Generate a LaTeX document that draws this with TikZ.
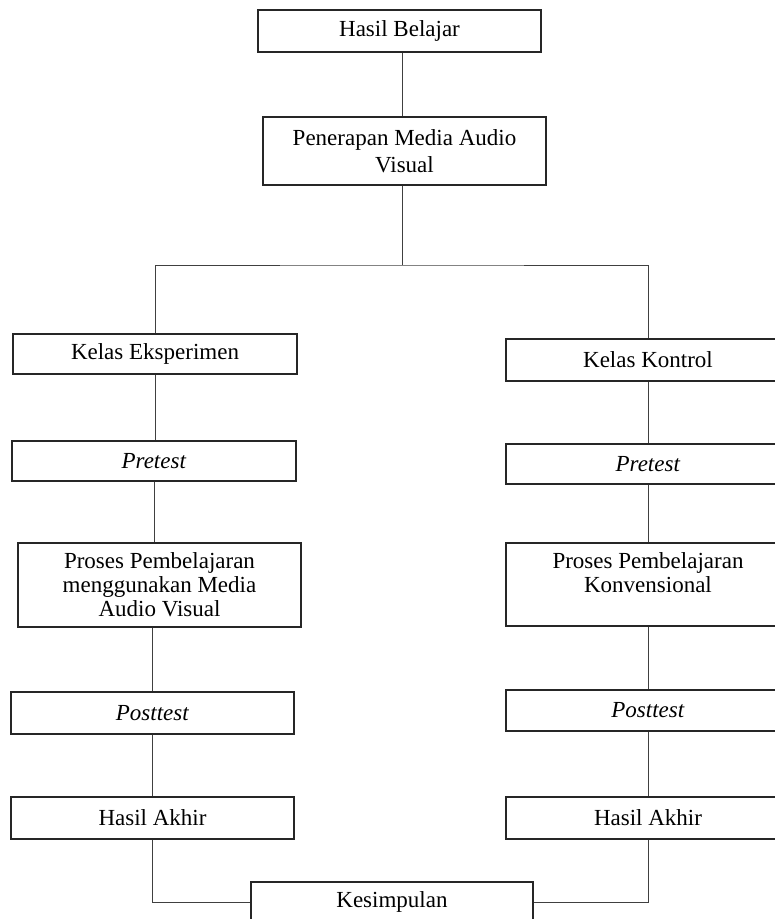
\documentclass[tikz,border=0pt]{standalone}
\usepackage{fontspec}
\setmainfont{Liberation Serif}
\begin{document}
\begin{tikzpicture}[x=1pt,y=-1pt,
  box/.style={draw=black!85, line width=1.1pt, rectangle, inner sep=0pt, align=center,
    font=\fontsize{23}{24}\selectfont},
  lbl/.style={inner sep=0pt, align=center, font=\fontsize{23}{24}\selectfont},
  conn/.style={draw=black!75, line width=1pt}]
\clip (0,0) rectangle (775,919);
% top
\node[box, minimum width=283pt, minimum height=42pt] (hb) at (399.5,31) {Hasil Belajar};
\node[box, minimum width=283pt, minimum height=68pt] (pen) at (404.5,151) {Penerapan Media Audio\\[3pt]Visual};
\coordinate (split) at (402,265);
% left column
\node[box, minimum width=284pt, minimum height=40pt] (ke) at (155,354) {Kelas Eksperimen};
\node[box, minimum width=284pt, minimum height=40pt] (pre1) at (154,461) {\textit{Pretest}};
\node[box, minimum width=283pt, minimum height=84pt] (pro1) at (159.5,585) {Proses Pembelajaran\\menggunakan Media\\Audio Visual};
\node[box, minimum width=283pt, minimum height=42pt] (post1) at (152.5,713) {\textit{Posttest}};
\node[box, minimum width=283pt, minimum height=42pt] (ha1) at (152.5,818) {Hasil Akhir};
% right column
\node[box, minimum width=284pt, minimum height=42pt] (kk) at (648,360) {Kelas Kontrol};
\node[box, minimum width=284pt, minimum height=40pt] (pre2) at (648,464) {\textit{Pretest}};
\node[box, minimum width=284pt, minimum height=83pt] (pro2) at (648,584.5) {};
\node[lbl] (pro2t) at (648,573) {Proses Pembelajaran\\Konvensional};
\node[box, minimum width=284pt, minimum height=41pt] (post2) at (648,710.5) {\textit{Posttest}};
\node[box, minimum width=284pt, minimum height=42pt] (ha2) at (648,818) {Hasil Akhir};
% bottom
\node[box, minimum width=282pt, minimum height=40pt] (kes) at (392,902) {Kesimpulan};
% connectors
\draw[conn] (hb.south -| split) -- (pen.north -| split);
\draw[conn] (pen.south -| split) -- (split);
\draw[conn] (ke.north) |- (split) -| (kk.north);
\draw[conn] (ke.south) -- (ke.south |- pre1.north);
\draw[conn] (pre1.south) -- (pre1.south |- pro1.north);
\draw[conn] (post1.north |- pro1.south) -- (post1.north);
\draw[conn] (post1.south) -- (ha1.north);
\draw[conn] (kk.south) -- (pre2.north);
\draw[conn] (pre2.south) -- (pro2.north);
\draw[conn] (pro2.south) -- (post2.north);
\draw[conn] (post2.south) -- (ha2.north);
\draw[conn] (ha1.south) |- (kes.west);
\draw[conn] (ha2.south) |- (kes.east);
\end{tikzpicture}
\end{document}
